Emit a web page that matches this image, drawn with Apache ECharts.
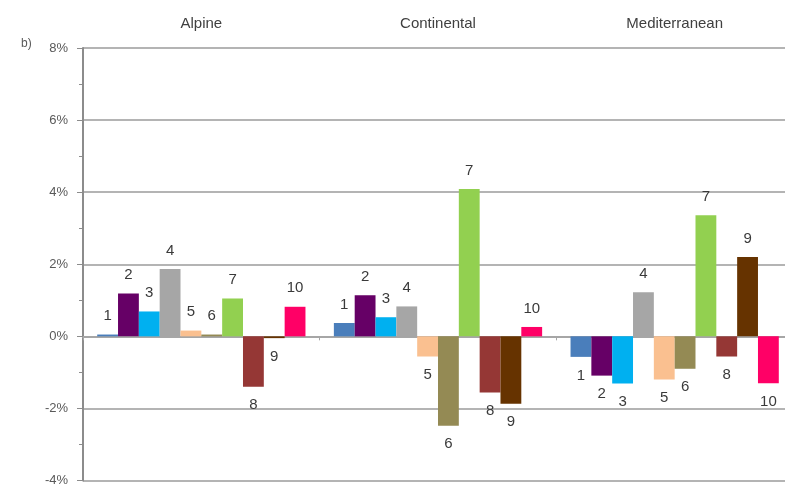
<!DOCTYPE html>
<html>
<head>
<meta charset="utf-8">
<script src="https://cdn.jsdelivr.net/npm/echarts@6/dist/echarts.min.js"></script>
<style>
html,body{margin:0;padding:0;background:#fff;overflow:hidden}
#chart{width:793px;height:487px}
</style>
</head>
<body>
<div id="chart"></div>
<script>
var regions=['Alpine','Continental','Mediterranean']
var names=['1','2','3','4','5','6','7','8','9','10']
// values in %, one array per region, bars 1..10
var alpine=[0.05,1.19,0.69,1.87,0.16,0.05,1.05,-1.40,-0.05,0.82]
var continental=[0.37,1.14,0.53,0.83,-0.56,-2.48,4.09,-1.56,-1.87,0.26]
var mediterranean=[-0.57,-1.09,-1.31,1.22,-1.20,-0.90,3.36,-0.56,2.20,-1.30]
var yTicks=[-4,-2,0,2,4,6,8]

var colors=['#4a7ebb','#660066','#00b0f0','#a6a6a6','#fac090','#948a54','#92d050','#953735','#663300','#ff0066']

var mychart=echarts.init(document.getElementById('chart'));

var series=[]
for(var i=0;i<names.length;i++){
	var vals=[alpine[i],continental[i],mediterranean[i]]
	var d=[]
	for(var j=0;j<vals.length;j++){
		d.push({value:vals[j],label:{position:vals[j]<0?'bottom':'top'}})
	}
	series.push({
		name:names[i],
		type:'bar',
		xAxisIndex:0,
		barGap:0,
		barCategoryGap:'12%',
		itemStyle:{color:colors[i]},
		label:{
			show:true,
			formatter:'{a}',
			distance:11,
			color:'#3a3a3a',
			fontSize:15,
			fontFamily:'Liberation Sans, Arial'
		},
		data:d
	})
}

var option={
	animation:false,
	grid:{left:83,top:48,right:0,bottom:6},
	graphic:[{
		type:'text',left:21,top:38,
		style:{text:'b)',fontSize:12,fill:'#595959',fontFamily:'Liberation Sans, Arial'}
	}],
	xAxis:[{
		type:'category',
		data:regions,
		axisLine:{onZero:true,lineStyle:{color:'#a6a6a6',width:2}},
		axisTick:{show:true,length:4,lineStyle:{color:'#a6a6a6'}},
		axisLabel:{show:false}
	},{
		type:'category',
		data:regions,
		position:'top',
		axisLine:{show:false},
		axisTick:{show:false},
		axisLabel:{color:'#404040',fontSize:15,margin:17,fontFamily:'Liberation Sans, Arial'}
	}],
	yAxis:{
		type:'value',
		min:yTicks[0],
		max:yTicks[yTicks.length-1],
		interval:2,
		axisLine:{show:true,lineStyle:{color:'#8c8c8c',width:2}},
		axisTick:{show:true,length:6,lineStyle:{color:'#8c8c8c'}},
		minorTick:{show:true,splitNumber:2,length:4,lineStyle:{color:'#8c8c8c'}},
		splitLine:{lineStyle:{color:'#b4b4b4',width:2}},
		axisLabel:{
			formatter:'{value}%',
			color:'#595959',
			fontSize:13,
			margin:15,
			fontFamily:'Liberation Sans, Arial'
		}
	},
	series:series
};
mychart.setOption(option);
</script>
</body>
</html>
